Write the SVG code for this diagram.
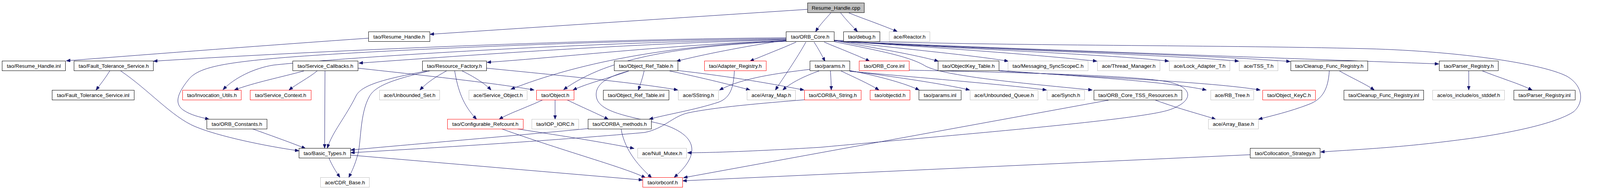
<svg xmlns="http://www.w3.org/2000/svg" width="4125" height="485" viewBox="0 0 4125 485">
<style>
rect{stroke-width:1}
.k{fill:#fff;stroke:#000}
.r{fill:#fff;stroke:#ff0000}
.g{fill:#fff;stroke:#bfbfbf}
.root{fill:#bfbfbf;stroke:#000}
text{font-family:"Liberation Sans",Arial,sans-serif;font-size:13.3px;fill:#000;text-anchor:middle}
#edges path{fill:none;stroke:#191970;stroke-width:1;marker-end:url(#a)}
</style>
<defs>
<marker id="a" markerWidth="11" markerHeight="8" refX="10" refY="4" orient="auto" markerUnits="userSpaceOnUse">
<path d="M0,0 L10,4 L0,8 z" fill="#191970" stroke="#191970" stroke-width="1"/>
</marker>
</defs>
<rect width="4125" height="485" fill="#fff"/>
<g id="edges">
<path d="M2067,24 L1101,88"/>
<path d="M2127,33 C2115,47 2100,62 2088,81"/>
<path d="M2152,33 C2165,50 2180,65 2195,81"/>
<path d="M2173,33 C2215,50 2260,65 2297,81"/>
<path d="M943,98 C700,115 400,138 170,156"/>
<path d="M2012,97 C1600,99 900,125 393,157"/>
<path d="M2012,99 C1500,104 900,132 700,150 C560,163 505,175 482,205 C450,245 448,268 470,283 C490,296 510,300 535,306"/>
<path d="M2012,101 C1500,108 900,146 700,167 C650,175 600,200 571,230"/>
<path d="M2012,102 C1600,112 1200,142 919,162"/>
<path d="M2012,104 C1700,116 1450,146 1247,160"/>
<path d="M2012,105 C1700,116 1470,165 1308,229"/>
<path d="M2012,106 C1750,118 1560,145 1443,230"/>
<path d="M2012,103 C1900,120 1800,140 1732,157"/>
<path d="M2038,108 C2000,125 1955,142 1920,157"/>
<path d="M2063,108 C2040,150 2005,200 1985,231"/>
<path d="M2084,108 C2095,125 2103,140 2112,157"/>
<path d="M2110,108 C2150,125 2195,142 2226,157"/>
<path d="M2136,104 C2250,125 2340,140 2402,157"/>
<path d="M2136,104 C2300,125 2480,140 2581,157"/>
<path d="M2136,105 C2400,122 2650,140 2808,157"/>
<path d="M2136,105 C2400,122 2850,140 2992,157"/>
<path d="M2136,105 C2400,122 3000,140 3171,157"/>
<path d="M2136,105 C2400,122 3100,140 3303,158"/>
<path d="M2136,105 C2500,122 3200,146 3683,164"/>
<path d="M2136,103 C2500,118 3100,115 3500,125 C3750,132 3950,165 4010,195 C4055,220 4055,265 4028,287 C3990,312 3900,335 3780,353 C3600,378 3500,382 3381,390"/>
<path d="M2136,107 C2250,130 2330,145 2370,170 C2420,195 2600,212 2796,231"/>
<path d="M2073,178 C1990,188 1900,200 1842,231"/>
<path d="M2097,182 C2060,195 2025,212 2004,231"/>
<path d="M2126,182 C2127,200 2128,215 2128,231"/>
<path d="M2153,182 C2190,200 2225,215 2250,231"/>
<path d="M2175,181 C2250,195 2320,215 2353,231"/>
<path d="M2175,182 C2300,198 2430,218 2482,231"/>
<path d="M2175,183 C2400,203 2600,220 2679,231"/>
<path d="M2328,180 C2600,186 2900,193 2990,210 C3060,225 3055,262 2990,283 C2900,310 2400,350 2100,378 C1900,390 1800,392 1760,392"/>
<path d="M2558,181 C2750,195 2980,208 3088,231"/>
<path d="M2558,182 C2800,198 3100,210 3226,231"/>
<path d="M2958,257 C3020,280 3080,295 3112,306"/>
<path d="M2838,257 L1750,456"/>
<path d="M3200,397 L1748,464"/>
<path d="M3403,182 C3400,230 3385,255 3350,268 C3300,287 3260,296 3222,306"/>
<path d="M3429,182 C3460,200 3495,215 3518,231"/>
<path d="M3760,182 L3760,231"/>
<path d="M3795,182 C3840,200 3890,215 3922,231"/>
<path d="M281,182 C270,200 258,215 246,231"/>
<path d="M309,182 C380,230 440,300 500,325 C560,350 680,375 765,387"/>
<path d="M778,182 C720,198 650,212 600,231"/>
<path d="M812,182 C790,200 760,215 740,231"/>
<path d="M832,182 L831,380"/>
<path d="M917,175 C1100,195 1280,215 1367,231"/>
<path d="M1093,182 C1000,200 928,215 912,245 C885,300 850,340 838,380"/>
<path d="M1100,182 C1000,205 960,222 946,247 C920,292 925,370 915,400 C907,428 898,445 893,455"/>
<path d="M1143,182 C1110,200 1090,215 1075,231"/>
<path d="M1183,182 C1220,200 1245,218 1257,231"/>
<path d="M1164,182 C1172,230 1185,270 1220,306"/>
<path d="M1246,175 C1450,195 1650,215 1735,231"/>
<path d="M1610,182 C1560,200 1500,215 1467,231"/>
<path d="M1649,182 C1645,200 1640,215 1634,231"/>
<path d="M1607,183 C1560,195 1520,215 1527,250 C1535,290 1620,300 1700,320 C1790,350 1790,400 1726,455"/>
<path d="M1714,182 C1800,200 1880,220 1920,231"/>
<path d="M1736,181 C1900,200 2000,220 2058,231"/>
<path d="M1880,182 C1878,220 1872,250 1840,262 C1780,282 1700,295 1662,306"/>
<path d="M1421,256 L1421,306"/>
<path d="M1451,256 C1490,275 1530,292 1557,306"/>
<path d="M1390,256 C1350,275 1300,292 1278,306"/>
<path d="M647,331 C700,350 750,368 782,381"/>
<path d="M1325,331 C1450,350 1560,368 1623,381"/>
<path d="M1285,331 C1450,390 1600,430 1652,456"/>
<path d="M1505,330 C1300,350 1000,375 898,385"/>
<path d="M1590,331 C1600,390 1640,430 1668,456"/>
<path d="M2060,256 C1950,265 1830,275 1760,290 C1720,300 1700,330 1650,340 C1400,362 1100,380 898,392"/>
<path d="M842,405 C850,425 860,440 870,455"/>
<path d="M897,398 L1645,462"/>
</g>
<g id="n1"><rect class="root" x="2067.5" y="7.5" width="145" height="25"/><text x="2140" y="24.5">Resume_Handle.cpp</text></g>
<g id="n2"><rect class="k" x="943.5" y="81.5" width="157" height="25"/><text x="1022" y="98.5">tao/Resume_Handle.h</text></g>
<g id="n3"><rect class="k" x="2012.5" y="81.5" width="123" height="25"/><text x="2074" y="98.5">tao/ORB_Core.h</text></g>
<g id="n4"><rect class="k" x="2159.5" y="81.5" width="93" height="25"/><text x="2206" y="98.5">tao/debug.h</text></g>
<g id="n5"><rect class="g" x="2276.5" y="81.5" width="104" height="25"/><text x="2328.5" y="98.5">ace/Reactor.h</text></g>
<g id="n6"><rect class="k" x="5.5" y="156.5" width="162" height="25"/><text x="86.5" y="173.5">tao/Resume_Handle.inl</text></g>
<g id="n7"><rect class="k" x="189.5" y="156.5" width="203" height="25"/><text x="291" y="173.5">tao/Fault_Tolerance_Service.h</text></g>
<g id="n8"><rect class="k" x="749.5" y="156.5" width="167" height="25"/><text x="833" y="173.5">tao/Service_Callbacks.h</text></g>
<g id="n9"><rect class="k" x="1081.5" y="156.5" width="164" height="25"/><text x="1163.5" y="173.5">tao/Resource_Factory.h</text></g>
<g id="n10"><rect class="k" x="1572.5" y="156.5" width="163" height="25"/><text x="1654" y="173.5">tao/Object_Ref_Table.h</text></g>
<g id="n11"><rect class="r" x="1803.5" y="156.5" width="158" height="25"/><text x="1882.5" y="173.5">tao/Adapter_Registry.h</text></g>
<g id="n12"><rect class="k" x="2073.5" y="156.5" width="102" height="25"/><text x="2124.5" y="173.5">tao/params.h</text></g>
<g id="n13"><rect class="r" x="2199.5" y="156.5" width="128" height="25"/><text x="2263.5" y="173.5">tao/ORB_Core.inl</text></g>
<g id="n14"><rect class="k" x="2401.5" y="156.5" width="156" height="25"/><text x="2479.5" y="173.5">tao/ObjectKey_Table.h</text></g>
<g id="n15"><rect class="g" x="2580.5" y="156.5" width="205" height="25"/><text x="2683" y="173.5">tao/Messaging_SyncScopeC.h</text></g>
<g id="n16"><rect class="g" x="2809.5" y="156.5" width="160" height="25"/><text x="2889.5" y="173.5">ace/Thread_Manager.h</text></g>
<g id="n17"><rect class="g" x="2993.5" y="156.5" width="155" height="25"/><text x="3071" y="173.5">ace/Lock_Adapter_T.h</text></g>
<g id="n18"><rect class="g" x="3172.5" y="156.5" width="99" height="25"/><text x="3222" y="173.5">ace/TSS_T.h</text></g>
<g id="n19"><rect class="k" x="3304.5" y="156.5" width="197" height="25"/><text x="3403" y="173.5">tao/Cleanup_Func_Registry.h</text></g>
<g id="n20"><rect class="k" x="3684.5" y="156.5" width="151" height="25"/><text x="3760" y="173.5">tao/Parser_Registry.h</text></g>
<g id="n21"><rect class="k" x="133.5" y="231.5" width="210" height="25"/><text x="238.5" y="248.5">tao/Fault_Tolerance_Service.inl</text></g>
<g id="n22"><rect class="r" x="467.5" y="231.5" width="150" height="25"/><text x="542.5" y="248.5">tao/Invocation_Utils.h</text></g>
<g id="n23"><rect class="r" x="640.5" y="231.5" width="156" height="25"/><text x="718.5" y="248.5">tao/Service_Context.h</text></g>
<g id="n24"><rect class="g" x="971.5" y="231.5" width="154" height="25"/><text x="1048.5" y="248.5">ace/Unbounded_Set.h</text></g>
<g id="n25"><rect class="g" x="1200.5" y="231.5" width="149" height="25"/><text x="1275" y="248.5">ace/Service_Object.h</text></g>
<g id="n26"><rect class="r" x="1373.5" y="231.5" width="96" height="25"/><text x="1421.5" y="248.5">tao/Object.h</text></g>
<g id="n27"><rect class="k" x="1544.5" y="231.5" width="168" height="25"/><text x="1628.5" y="248.5">tao/Object_Ref_Table.inl</text></g>
<g id="n28"><rect class="g" x="1736.5" y="231.5" width="103" height="25"/><text x="1788" y="248.5">ace/SString.h</text></g>
<g id="n29"><rect class="g" x="1912.5" y="231.5" width="124" height="25"/><text x="1974.5" y="248.5">ace/Array_Map.h</text></g>
<g id="n30"><rect class="r" x="2059.5" y="231.5" width="145" height="25"/><text x="2132" y="248.5">tao/CORBA_String.h</text></g>
<g id="n31"><rect class="r" x="2227.5" y="231.5" width="102" height="25"/><text x="2278.5" y="248.5">tao/objectid.h</text></g>
<g id="n32"><rect class="k" x="2352.5" y="231.5" width="108" height="25"/><text x="2406.5" y="248.5">tao/params.inl</text></g>
<g id="n33"><rect class="g" x="2483.5" y="231.5" width="174" height="25"/><text x="2570.5" y="248.5">ace/Unbounded_Queue.h</text></g>
<g id="n34"><rect class="g" x="2680.5" y="231.5" width="96" height="25"/><text x="2728.5" y="248.5">ace/Synch.h</text></g>
<g id="n35"><rect class="k" x="2800.5" y="231.5" width="225" height="25"/><text x="2913" y="248.5">tao/ORB_Core_TSS_Resources.h</text></g>
<g id="n36"><rect class="g" x="3099.5" y="231.5" width="110" height="25"/><text x="3154.5" y="248.5">ace/RB_Tree.h</text></g>
<g id="n37"><rect class="r" x="3232.5" y="231.5" width="135" height="25"/><text x="3300" y="248.5">tao/Object_KeyC.h</text></g>
<g id="n38"><rect class="k" x="3440.5" y="231.5" width="204" height="25"/><text x="3542.5" y="248.5">tao/Cleanup_Func_Registry.inl</text></g>
<g id="n39"><rect class="g" x="3667.5" y="231.5" width="184" height="25"/><text x="3759.5" y="248.5">ace/os_include/os_stddef.h</text></g>
<g id="n40"><rect class="k" x="3875.5" y="231.5" width="157" height="25"/><text x="3954" y="248.5">tao/Parser_Registry.inl</text></g>
<g id="n41"><rect class="k" x="529.5" y="306" width="154" height="25"/><text x="606.5" y="323">tao/ORB_Constants.h</text></g>
<g id="n42"><rect class="r" x="1145.5" y="306" width="194" height="25"/><text x="1242.5" y="323">tao/Configurable_Refcount.h</text></g>
<g id="n43"><rect class="g" x="1361.5" y="306" width="120" height="25"/><text x="1421.5" y="323">tao/IOP_IORC.h</text></g>
<g id="n44"><rect class="k" x="1505.5" y="306" width="162" height="25"/><text x="1586.5" y="323">tao/CORBA_methods.h</text></g>
<g id="n45"><rect class="g" x="3093.5" y="306" width="128" height="25"/><text x="3157.5" y="323">ace/Array_Base.h</text></g>
<g id="n46"><rect class="k" x="765.5" y="380.5" width="132" height="25"/><text x="831.5" y="397.5">tao/Basic_Types.h</text></g>
<g id="n47"><rect class="g" x="1632.5" y="380.5" width="125" height="25"/><text x="1695" y="397.5">ace/Null_Mutex.h</text></g>
<g id="n48"><rect class="k" x="3200.5" y="380.5" width="179" height="25"/><text x="3290" y="397.5">tao/Collocation_Strategy.h</text></g>
<g id="n49"><rect class="g" x="820.5" y="455.5" width="125" height="25"/><text x="883" y="472.5">ace/CDR_Base.h</text></g>
<g id="n50"><rect class="r" x="1645.5" y="455.5" width="102" height="25"/><text x="1696.5" y="472.5">tao/orbconf.h</text></g>
</svg>
